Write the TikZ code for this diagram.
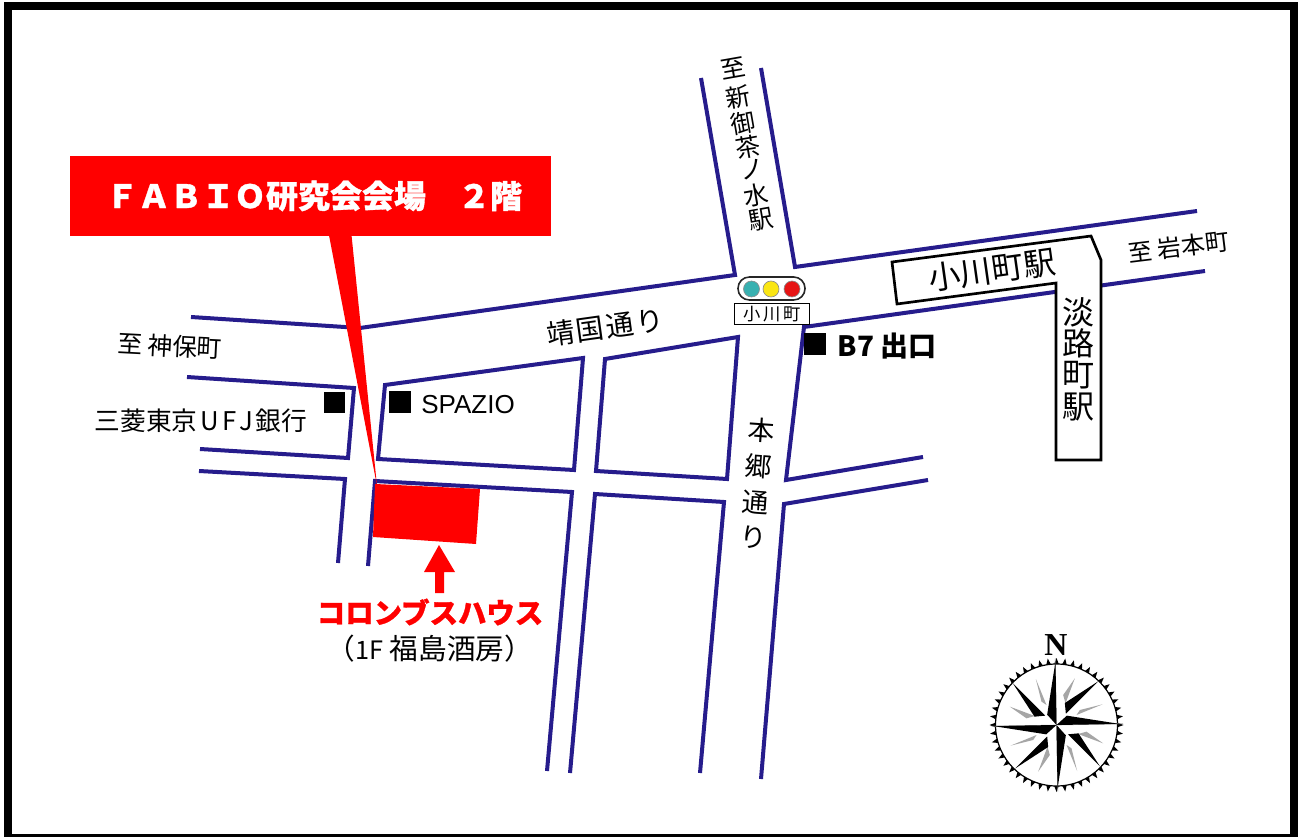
\documentclass[tikz,border=0pt]{standalone}
\usepackage{fontspec}
\setmainfont{Noto Sans CJK JP}
\newfontfamily\heavy{Noto Sans CJK JP}[BoldFeatures={FakeBold=1}]
\newfontfamily\latinsans{Liberation Sans}
\newfontfamily\serifn{Liberation Serif}
\definecolor{roadblue}{RGB}{38,28,140}
\definecolor{pinred}{RGB}{255,0,0}
\newcommand{\fs}[1]{\fontsize{#1pt}{#1pt}\selectfont}
\tikzset{
  road/.style={draw=roadblue,line width=3pt,line join=miter,line cap=butt},
  label/.style={inner sep=0pt,outer sep=0pt,text=black},
  station/.style={draw=black,line width=2pt,fill=white,line join=miter},
  sq/.style={fill=black,draw=none},
  lamp/.style={circle,minimum size=12pt,inner sep=0pt,draw=black!45,line width=.5pt}
}
\begin{document}
\begin{tikzpicture}[x=.75pt,y=-.75pt]
\useasboundingbox (0,0) rectangle (1299,837);
\fill[white] (0,0) rectangle (1299,837);
\draw[black,line width=6pt] (8,6) rectangle (1293.5,838);
% roads
\draw[road] (701,78) -- (735,275) -- (360,328) -- (191,317);
\draw[road] (761,68) -- (795,267) -- (1197,211);
\draw[road] (1205,271) -- (804,327) -- (786,480) -- (923,457);
\draw[road] (928,480) -- (784,504) -- (761,779);
\draw[road] (700,773) -- (724,502) -- (595,494) -- (570,773);
\draw[road] (547,771) -- (572,492) -- (375,481) -- (368,566);
\draw[road] (199,471) -- (345,479) -- (338,563);
\draw[road] (200,449) -- (348,458) -- (354,388) -- (187,377);
\draw[road] (385,385) -- (583,358) -- (574,470) -- (378,459) -- cycle;
\draw[road] (605,359) -- (738,337) -- (727,479) -- (596,471) -- cycle;
% red callout and building
\fill[pinred] (375,484) -- (480,489) -- (476,544) -- (373,537) -- cycle;
\fill[pinred] (328,230) -- (351,230) -- (377,486) -- cycle;
\node[fill=pinred,minimum width=360.75pt,minimum height=60pt,inner sep=0pt] (banner) at (310.5,196) {};
\node[text=white,font=\heavy\bfseries\fs{24},inner sep=0pt] (bannertext) at (314,196) {ＦＡＢＩＯ研究会会場　２階};
% arrow
\fill[pinred] (435,593) -- (435,572) -- (424,572) -- (439,545) -- (455,572) -- (444,572) -- (444,593) -- cycle;
\node[text=pinred,font=\heavy\bfseries\fs{21.3},inner sep=0pt] (columbus) at (430,612) {コロンブスハウス};
\node[label,font=\fs{21.5}] (fukushima) at (430,649) {（{\fs{19}1F} 福島酒房）};
% squares
\fill[sq] (324,392) rectangle (345,413);
\fill[sq] (389,391) rectangle (411,413);
\fill[sq] (804,333) rectangle (826,355);
% labels
\node[label,font=\latinsans\fs{19.5}] (spazio) at (468,405) {SPAZIO};
\node[label,font=\fs{19.3}] (ufj) at (201,421) {三菱東京\hspace{2pt}U\hspace{2.5pt}F\hspace{2.5pt}J\hspace{2pt}銀行};
\node[label,font=\fs{18.5},rotate=-3] (jimbocho) at (170,346) {至 神保町};
\node[label,font=\fs{21},rotate=8] (yasukuni) at (605,327) {靖\hspace{1.5pt}国\hspace{1.5pt}通\hspace{1.5pt}り};
\node[label,font=\fs{18},rotate=7] (iwamoto) at (1179,247) {至 岩本町};
\node[label,font=\bfseries\fs{21}] (b7) at (887,346) {B7 出口};
% Hongo dori
\foreach \t/\x/\y/\n in {本/761/430/a,郷/758/466/b,通/755/503/c,り/753/538/d}
  \node[label,font=\fs{20},rotate=-4] (hongo\n) at (\x,\y) {\t};
% to Ochanomizu
\foreach \t/\x/\y/\n in {至/733/68/a,新/738/97/b,御/743/123/c,茶/748/147/d,ノ/752/170/e,水/756/195/f,駅/761/220/g}
  \node[label,font=\fs{18.5},rotate=10] (ocha\n) at (\x,\y) {\t};
% station
\draw[station] (892,262) -- (1091,236) -- (1101,260) -- (1101,460) -- (1056,460) -- (1056,283) -- (897,304) -- cycle;
\node[label,font=\fs{24},rotate=8] (ogawa) at (992,270) {小川町駅};
\foreach \t/\y/\n in {淡/312/a,路/343/b,町/375/c,駅/407/d}
  \node[label,font=\fs{24}] (awaji\n) at (1078,\y) {\t};
% traffic light
\draw[black!85,line width=1.2pt,fill=white,rounded corners=8.5pt] (738,277) rectangle (805,300);
\node[lamp,fill={rgb,255:red,56;green,176;blue,176}] (lampa) at (751.5,289) {};
\node[lamp,fill={rgb,255:red,250;green,230;blue,20}] (lampb) at (771,289) {};
\node[lamp,fill={rgb,255:red,230;green,20;blue,20}] (lampc) at (792,289) {};
\node[draw=black,line width=1pt,fill=white,minimum width=56pt,minimum height=16pt,inner sep=0pt,font=\fs{13}] (signal) at (772,314) {小\hspace{2pt}川\hspace{2pt}町};
% compass
\node[label,font=\serifn\bfseries\fs{24}] (north) at (1056,645) {N};
\begin{scope}[shift={(1056.5,725)},x=.25pt,y=-.25pt]
\foreach \a in {0,7.5,...,352.5}
  \fill[black,rotate=\a] (-8,-180) -- (0,-201) -- (8,-180) -- cycle;
\draw[black,line width=.9pt,fill=white] (0,0) circle [radius=45.75pt];
\draw[black!35,line width=.5pt] (-195,4) -- (200,-4);
\draw[black!35,line width=.5pt] (-4,-200) -- (4,200);
\foreach \a in {0,-90,-180,-270}{
  \begin{scope}[rotate=\a]
  \fill[black!35] (55,-140) -- (20,-90) -- (27,-65) -- cycle;
  \fill[black!35] (138,-62) -- (70,-45) -- (60,-30) -- cycle;
  \fill[black] (-3,-191) -- (-28,-31) -- (0,0) -- cycle;
  \fill[black] (125,-131) -- (25,-66) -- (28,-34) -- cycle;
  \end{scope}
}
\end{scope}
\end{tikzpicture}
\end{document}
